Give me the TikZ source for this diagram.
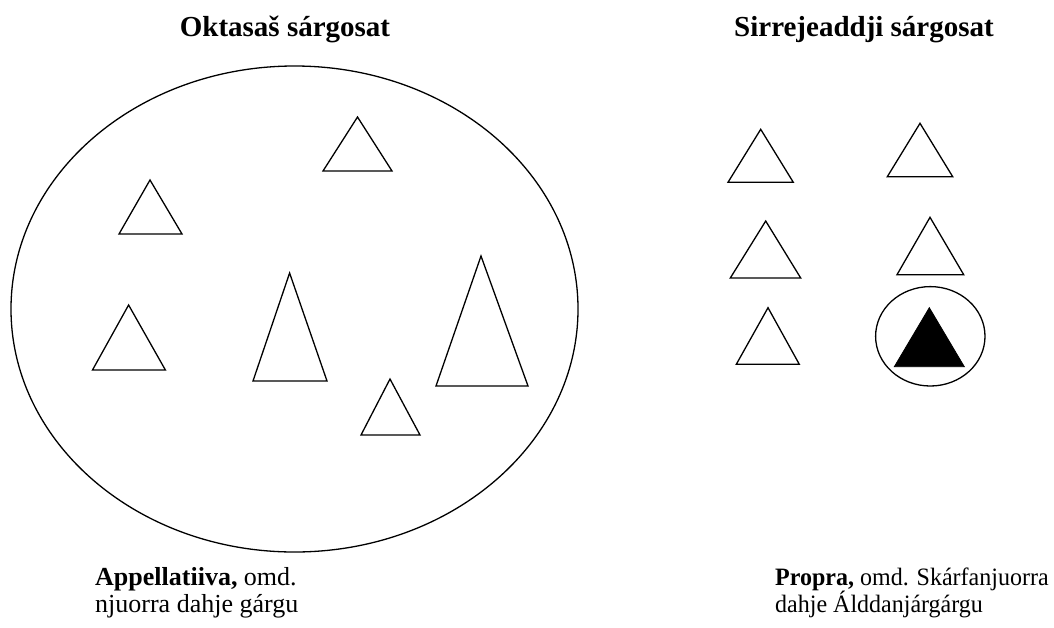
\documentclass[tikz,border=0pt]{standalone}
\usepackage{fontspec}
\setmainfont{Liberation Serif}
\begin{document}
\begin{tikzpicture}[x=1pt,y=-1pt,
  tri/.style={draw=black,line width=1.3pt,line join=miter},
  filledtri/.style={fill=black,draw=black,line width=0.8pt},
  ring/.style={draw=black,line width=1.3pt},
  title/.style={anchor=base,inner sep=0pt,font=\fontsize{29}{32}\selectfont\bfseries},
  caption/.style={anchor=base west,inner sep=0pt,align=left,font=\fontsize{26}{27}\selectfont}]
\useasboundingbox[fill=white] (0,0) rectangle (1054,627);
% titles
\node[title] (t1) at (285,36) {Oktasaš sárgosat};
\node[title] (t2) at (864,36) {Sirrejeaddji sárgosat};
% big ellipse
\draw[ring] (294.5,309) ellipse [x radius=283.5pt, y radius=243pt];
% triangles inside ellipse
\draw[tri] (150,180) -- (182,234) -- (119,234) -- cycle;
\draw[tri] (357.5,117) -- (392,171) -- (323,171) -- cycle;
\draw[tri] (128.6,305) -- (165.4,370) -- (92.5,370) -- cycle;
\draw[tri] (289.6,273) -- (327,381) -- (253,381) -- cycle;
\draw[tri] (481,256) -- (528,386) -- (436,386) -- cycle;
\draw[tri] (390,379) -- (420,435) -- (361,435) -- cycle;
% right group
\draw[tri] (760.7,129.3) -- (793.3,182.3) -- (728,182.3) -- cycle;
\draw[tri] (920,123.3) -- (952.7,176.7) -- (887.3,176.7) -- cycle;
\draw[tri] (765.7,221) -- (800.7,278) -- (730.3,278) -- cycle;
\draw[tri] (930,217.3) -- (963.7,274.7) -- (897,274.7) -- cycle;
\draw[tri] (768,307.7) -- (799.3,364.3) -- (736.3,364.3) -- cycle;
\draw[ring] (930.3,336.3) ellipse [x radius=54.7pt, y radius=49.7pt];
\draw[filledtri] (929.3,307.7) -- (964.3,366.7) -- (894.3,366.7) -- cycle;
% captions (anchor base = baseline of the last line)
\node[caption] (c1) at (95,612) {\textbf{Appellatiiva,} omd.\\njuorra dahje gárgu};
\node[caption,font=\fontsize{25}{27}\selectfont,xscale=0.96] (c2) at (775,612) {\textbf{Propra,} omd. Skárfanjuorra\\dahje Álddanjárgárgu};
\end{tikzpicture}
\end{document}
